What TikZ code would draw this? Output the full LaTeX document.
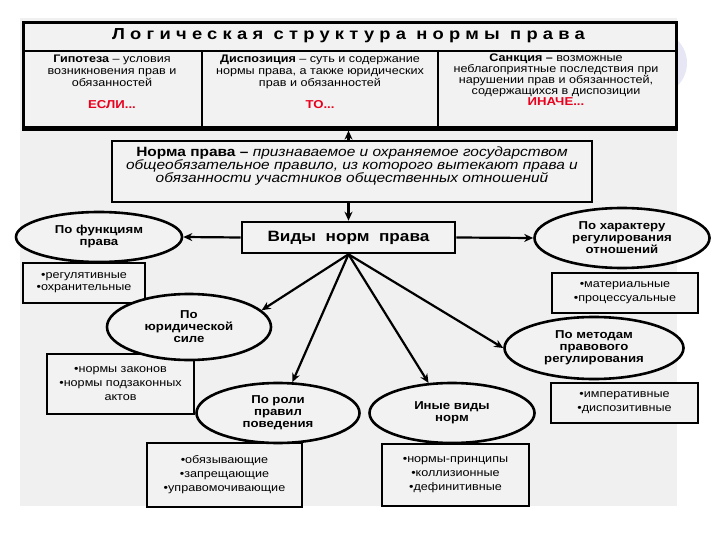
\documentclass[tikz,border=0pt]{standalone}
\usepackage{fontspec}
\setmainfont[FakeStretch=1.15]{Liberation Sans}
\newfontfamily\titlefont[FakeStretch=1.15,LetterSpace=33]{Liberation Sans}
\usepackage{tikz}
\usetikzlibrary{arrows.meta, positioning, shapes.geometric}
\definecolor{pagegray}{HTML}{F0F0F0}
\definecolor{boxgray}{HTML}{F2F2F2}
\definecolor{ifred}{HTML}{E8001C}
\definecolor{lavender}{HTML}{E6E6F5}
\tikzstyle{arr}=[-{Stealth[length=9bp,width=8bp]},line width=2.2bp,color=black]
\tikzstyle{frame}=[draw=black,line width=2.6bp,fill=boxgray]
\tikzstyle{kind}=[ellipse,frame,inner sep=0pt,align=center,font=\fontsize{11.5}{12}\selectfont\bfseries]
\tikzstyle{list}=[rectangle,frame,inner sep=0pt,align=center,font=\fontsize{11}{14}\selectfont]
\tikzstyle{cell}=[align=center,inner sep=0pt,font=\fontsize{11}{11.8}\selectfont]

\begin{document}
\begin{tikzpicture}[x=1bp, y=-1bp]
  \useasboundingbox (0,0) rectangle (720,540);
  \fill[lavender] (655,63) circle (32);
  \fill[pagegray] (20,18) rectangle (677,506);
  % logical structure table
  \node[frame,minimum width=653bp,minimum height=107bp,anchor=north west] (tab) at (22,21) {};
  \draw[line width=2.6bp] (22,51) -- (675,51);
  \draw[line width=2.6bp] (202,51) -- (202,128);
  \draw[line width=2.6bp] (438,51) -- (438,128);
  \draw[line width=4bp] (22,128) -- (675,128);
  \node[font=\titlefont\fontsize{16}{16}\selectfont\bfseries] (title) at (348.5,36) {Логическая структура нормы права};
  \node[cell,anchor=north] (hyp) at (112,55) {\textbf{Гипотеза} – условия\\возникновения прав и\\обязанностей};
  \node[cell,anchor=north] (disp) at (320,55) {\textbf{Диспозиция} – суть и содержание\\нормы права, а также юридических\\прав и обязанностей};
  \node[cell,anchor=north,font=\fontsize{11}{11}\selectfont] (sanc) at (556,54) {\textbf{Санкция –} возможные\\неблагоприятные последствия при\\нарушении прав и обязанностей,\\содержащихся в диспозиции};
  \node[font=\fontsize{11.5}{12}\selectfont\bfseries,text=ifred] (if) at (112,105) {ЕСЛИ...};
  \node[font=\fontsize{11.5}{12}\selectfont\bfseries,text=ifred] (then) at (320,105) {ТО...};
  \node[font=\fontsize{11.5}{12}\selectfont\bfseries,text=ifred] (else) at (556,102) {ИНАЧЕ...};
  % norm of law
  \node[frame,minimum width=480bp,minimum height=61bp] (norm) at (352,171.5) {};
  \node[align=center,inner sep=0pt,font=\fontsize{13.5}{13}\selectfont,below=7bp of norm.north] (normtext) {\textbf{Норма права –} \textit{признаваемое и охраняемое государством}\\\textit{общеобязательное правило, из которого вытекают права и}\\\textit{обязанности участников общественных отношений}};
  \node[frame,minimum width=213bp,minimum height=31bp,font=\fontsize{15}{15}\selectfont\bfseries] (vid) at (348.5,237.5) {Виды~~норм~~права};
  % lists
  \node[list,minimum width=122bp,minimum height=40bp,font=\fontsize{11}{12}\selectfont] (b1) at (84,283) {•регулятивные\\•охранительные};
  \node[list,minimum width=146bp,minimum height=40bp] (b2) at (625,293) {•материальные\\•процессуальные};
  \node[list,minimum width=147bp,minimum height=60bp] (b3) at (120.5,384) {•нормы законов\\•нормы подзаконных\\актов};
  \node[list,minimum width=155bp,minimum height=64bp] (b4) at (224.5,475) {•обязывающие\\•запрещающие\\•управомочивающие};
  \node[list,minimum width=147bp,minimum height=62bp] (b5) at (455.5,475) {•нормы-принципы\\•коллизионные\\•дефинитивные};
  \node[list,minimum width=147bp,minimum height=40bp] (b6) at (624.5,403) {•императивные\\•диспозитивные};
  % kinds
  \node[kind,minimum width=166bp,minimum height=50bp] (e1) at (99,237) {По функциям\\права};
  \node[kind,minimum width=175bp,minimum height=60bp] (e2) at (622,238) {По характеру\\регулирования\\отношений};
  \node[kind,minimum width=164bp,minimum height=66bp] (e3) at (189,327) {По\\юридической\\силе};
  \node[kind,minimum width=163bp,minimum height=60bp] (e4) at (278,413) {По роли\\правил\\поведения};
  \node[kind,minimum width=165bp,minimum height=60bp] (e5) at (452,413) {Иные виды\\норм};
  \node[kind,minimum width=179bp,minimum height=62bp] (e6) at (594,348) {По методам\\правового\\регулирования};
  % arrows
  \draw[arr] (norm.north -| vid) -- (tab.south -| vid);
  \draw[arr] (norm.south -| vid) -- (vid.north);
  \draw[arr] (vid.west) -- (e1.east);
  \draw[arr] (vid.east) -- (e2.west);
  \foreach \t/\a in {e3/13,e4/65,e5/128,e6/180}
    \draw[arr] (vid.south) -- (\t.\a);
\end{tikzpicture}
\end{document}
